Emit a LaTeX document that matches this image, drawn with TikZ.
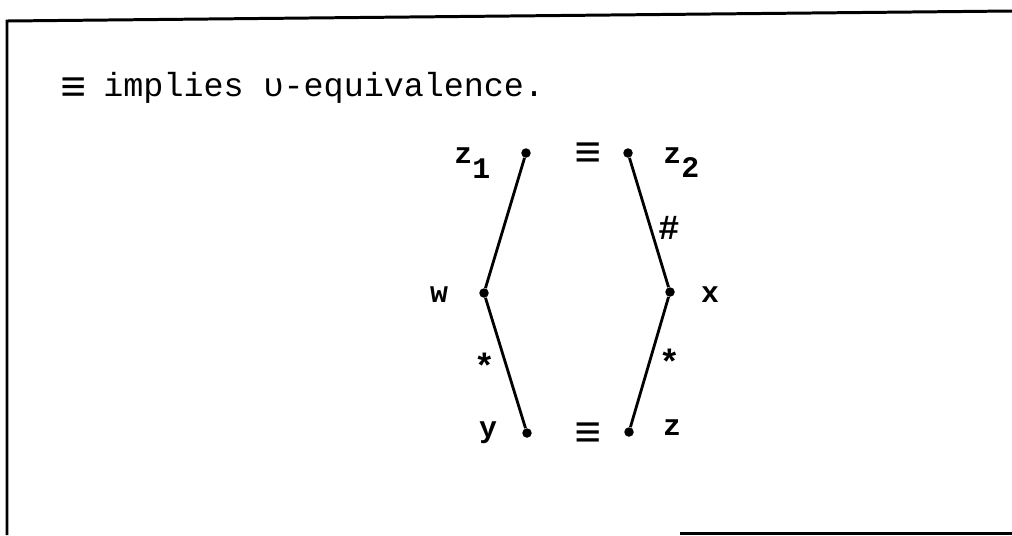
\documentclass[tikz,border=0pt]{standalone}
\usepackage{fontspec}
\setmonofont{Liberation Mono}
\usetikzlibrary{positioning}
\newcommand{\bigeqv}{\makebox[0.6em][c]{\raisebox{-3pt}{\fontsize{25}{22}\selectfont ≡}}}
\tikzset{
  dot/.style={circle, fill=black, inner sep=0pt, minimum size=1.9mm},
  edge/.style={draw=black, line width=1.6pt},
  frame/.style={draw=black, line width=1.7pt},
  lbl/.style={font=\ttfamily\bfseries\fontsize{17}{20}\selectfont, inner sep=0pt},
  eqv/.style={font=\ttfamily\bfseries\fontsize{26}{30}\selectfont, inner sep=0pt},
  edgelbl/.style={font=\ttfamily\bfseries\fontsize{20}{22}\selectfont, inner sep=0pt, midway, xshift=#1},
  title/.style={font=\ttfamily\fontsize{19}{22}\selectfont, inner sep=0pt, anchor=base west}
}
\begin{document}
\begin{tikzpicture}[x=0.02cm, y=-0.02cm]
  \useasboundingbox (0,0) rectangle (1012,535);

  % frame (scanned page border)
  \draw[frame] (7,535) -- (7,21) -- (1012,11);
  \draw[frame] (680,533) -- (1012,533);

  \node[title] (head) at (63,96) {\bigeqv{} implies υ-equivalence.};

  % points
  \node[dot] (z1) at (526,153) {};
  \node[dot] (z2) at (628,153) {};
  \node[dot] (w) at (484,293) {};
  \node[dot] (x) at (670,292) {};
  \node[dot] (y) at (527,433) {};
  \node[dot] (z) at (629,432) {};

  \draw[edge] (z1) -- (w);
  \draw[edge] (w) -- node[edgelbl=-0.42cm, yshift=-0.05cm] {*} (y);
  \draw[edge] (z2) -- node[edgelbl=0.4cm, yshift=-0.1cm] {\#} (x);
  \draw[edge] (x) -- node[edgelbl=0.4cm] {*} (z);

  % labels
  \node[lbl, anchor=base west] (lz1) at (454,163) {z\raisebox{-9pt}{1}};
  \node[lbl, anchor=base west] (lz2) at (663,163) {z\raisebox{-8.5pt}{2}};
  \node[eqv] (eqtop) at (588,155) {≡};
  \node[lbl] (lw) at (439,295) {w};
  \node[lbl] (lx) at (710,295) {x};
  \node[lbl] (ly) at (488,433) {y};
  \node[eqv] (eqbot) at (588,435) {≡};
  \node[lbl] (lz) at (672,428) {z};
\end{tikzpicture}
\end{document}
